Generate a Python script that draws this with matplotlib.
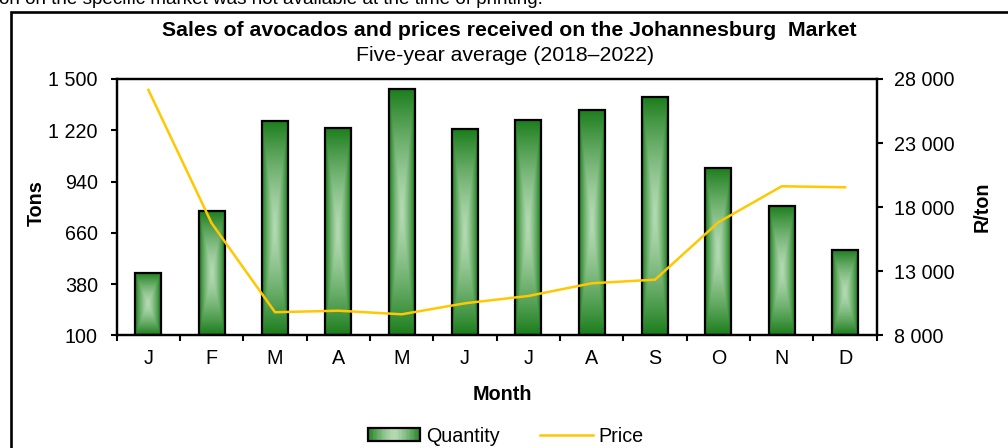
import numpy as np
import matplotlib
matplotlib.use("Agg")
import matplotlib.pyplot as plt
from matplotlib.patches import Rectangle
from matplotlib.legend_handler import HandlerBase
from matplotlib.colors import to_rgb

plt.rcParams['font.family'] = ['Liberation Sans', 'DejaVu Sans']

months = ["J", "F", "M", "A", "M", "J", "J", "A", "S", "O", "N", "D"]
quantity = [442, 780, 1270, 1232, 1445, 1225, 1276, 1332, 1401, 1015, 808, 568]
price = [27150, 16740, 9800, 9920, 9640, 10500, 11070, 12060, 12340, 16820, 19630, 19550]
left_ticks = [100, 380, 660, 940, 1220, 1500]
right_ticks = [8000, 13000, 18000, 23000, 28000]

title = "Sales of avocados and prices received on the Johannesburg  Market"
subtitle = "Five-year average (2018\u20132022)"
note = "Information on the specific market was not available at the time of printing."

DARK = np.array(to_rgb("#1b7d1b"))
LIGHT = np.array(to_rgb("#b3dab3"))
GOLD = "#FFC800"
FS = 14.2
TFS = 15.3
NFS = 13.6

W, H = 1008, 448
fig = plt.figure(figsize=(W / 100, H / 100), dpi=100)

def fx(px):
    return px / W

def fy(py):
    return 1 - py / H

# outer frame and clipped note
fig.patches.append(Rectangle((fx(11.3), -0.1), 1.2, fy(12) + 0.1, transform=fig.transFigure,
                             fill=False, edgecolor="black", linewidth=1.9))
fig.text(fx(543), fy(4), note, ha="right", va="baseline", fontsize=NFS)

ax = fig.add_axes([fx(116.7), fy(335.3), fx(760), 256.3 / H])
x = np.arange(len(months))
bars = ax.bar(x, [q - 100 for q in quantity], bottom=100, width=0.41,
              facecolor="none", edgecolor="black", linewidth=1.6, zorder=3)

# gradient fill (box gradient from center)
nx, ny = 60, 200
u = np.linspace(-1, 1, nx)
v = np.linspace(-1, 1, ny)
U, V = np.meshgrid(u, v)
T = np.maximum(np.abs(U), np.abs(V)) ** 1.4
img = LIGHT[None, None, :] * (1 - T[..., None]) + DARK[None, None, :] * T[..., None]
for b in bars:
    x0, y0 = b.get_x(), b.get_y()
    x1, y1 = x0 + b.get_width(), y0 + b.get_height()
    im = ax.imshow(img, extent=(x0, x1, y0, y1), aspect="auto", zorder=2,
                   interpolation="bilinear")
    im.set_clip_path(b)

ax.set_xlim(-0.5, len(months) - 0.5)
ax.set_ylim(left_ticks[0], left_ticks[-1])
ax.set_yticks(left_ticks)
ax.set_yticklabels([f"{t:,}".replace(",", " ") for t in left_ticks])
ax.set_xticks(np.arange(-0.5, len(months), 1.0))
ax.set_xticklabels([])
ax.set_xticks(x, minor=True)
ax.set_xticklabels(months, minor=True)
ax.tick_params(axis="x", which="major", direction="out", length=4, width=1.5)
ax.tick_params(axis="x", which="minor", length=0, pad=10, labelsize=FS)
ax.tick_params(axis="y", direction="out", length=4, width=1.5, pad=9.5, labelsize=FS)
for s in ax.spines.values():
    s.set_linewidth(1.6)

ax2 = ax.twinx()
ax2.plot(x, price, color=GOLD, linewidth=1.8, zorder=4)
ax2.set_ylim(right_ticks[0], right_ticks[-1])
ax2.set_yticks(right_ticks)
ax2.set_yticklabels([f"{t:,}".replace(",", " ") for t in right_ticks])
ax2.tick_params(axis="y", direction="out", length=4, width=1.5, pad=8.5, labelsize=FS)
for s in ax2.spines.values():
    s.set_linewidth(1.6)

# texts
fig.text(fx(509), fy(36.5), title, ha="center", va="baseline", fontsize=TFS, fontweight="bold")
fig.text(fx(505), fy(61), subtitle, ha="center", va="baseline", fontsize=TFS)
fig.text(fx(36.7), fy(203), "Tons", rotation=90, ha="center", va="center", fontsize=FS, fontweight="bold")
fig.text(fx(981.7), fy(207), "R/ton", rotation=90, ha="center", va="center", fontsize=FS, fontweight="bold")
fig.text(fx(502), fy(394), "Month", ha="center", va="center", fontsize=FS, fontweight="bold")


class GradHandler(HandlerBase):
    def create_artists(self, legend, orig_handle, xdescent, ydescent, width, height, fontsize, trans):
        arts = []
        n = 40
        for i in range(n):
            t = abs((i + 0.5) / n * 2 - 1) ** 1.4
            c = LIGHT * (1 - t) + DARK * t
            arts.append(Rectangle((-xdescent + i * width / n, -ydescent), width / n * 1.05, height,
                                  facecolor=c, edgecolor="none", linewidth=0, transform=trans))
        arts.append(Rectangle((-xdescent, -ydescent), width, height, fill=False,
                              edgecolor="black", linewidth=1.6, transform=trans))
        return arts


qh = Rectangle((0, 0), 1, 1)
(lh,) = ax2.plot([], [], color=GOLD, linewidth=1.8)
fig.legend([qh, lh], ["Quantity", "Price"], handler_map={Rectangle: GradHandler()},
           loc="center", bbox_to_anchor=(fx(505.6), fy(436)), ncol=2, frameon=False,
           fontsize=FS, handlelength=2.68, handleheight=0.62, handletextpad=0.29,
           columnspacing=2.03)

fig.savefig("out.png", dpi=100)
